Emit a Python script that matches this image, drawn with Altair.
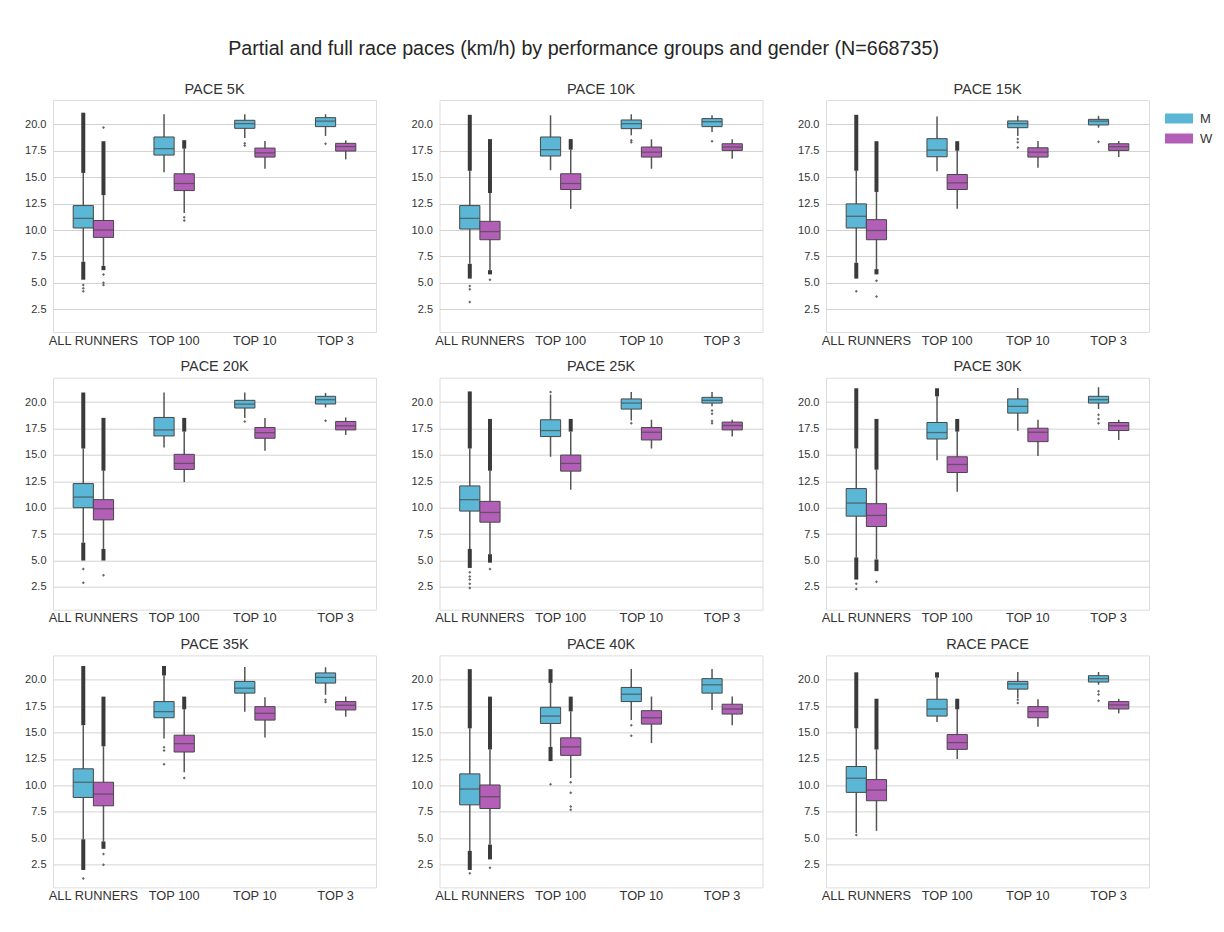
import altair as alt
import pandas as pd

# ---------------- data ----------------
panels = ["PACE 5K", "PACE 10K", "PACE 15K", "PACE 20K", "PACE 25K",
          "PACE 30K", "PACE 35K", "PACE 40K", "RACE PACE"]
groups = ["ALL RUNNERS", "TOP 100", "TOP 10", "TOP 3"]
genders = ["M", "W"]
# each inner list: ALL M, ALL W, T100 M, T100 W, T10 M, T10 W, T3 M, T3 W
q1 = [
    [10.19, 9.30, 17.09, 13.73, 19.62, 16.90, 19.78, 17.47],
    [10.09, 9.08, 17.00, 13.83, 19.59, 16.90, 19.78, 17.53],
    [10.19, 9.08, 16.93, 13.83, 19.68, 16.90, 19.94, 17.53],
    [10.00, 8.85, 16.79, 13.62, 19.43, 16.57, 19.81, 17.36],
    [9.68, 8.63, 16.73, 13.46, 19.33, 16.41, 19.90, 17.36],
    [9.20, 8.22, 16.50, 13.33, 18.95, 16.25, 19.90, 17.30],
    [8.86, 8.07, 16.40, 13.16, 18.73, 16.18, 19.68, 17.14],
    [8.16, 7.81, 15.86, 12.84, 17.93, 15.80, 18.73, 16.75],
    [9.34, 8.55, 16.56, 13.41, 19.11, 16.40, 19.78, 17.23],
]
median = [
    [11.10, 10.00, 17.70, 14.40, 20.06, 17.30, 20.30, 17.90],
    [11.10, 9.85, 17.60, 14.40, 20.06, 17.37, 20.25, 17.85],
    [11.30, 9.95, 17.56, 14.46, 20.06, 17.37, 20.30, 17.88],
    [11.01, 9.90, 17.36, 14.19, 19.80, 17.10, 20.22, 17.75],
    [10.76, 9.55, 17.30, 14.19, 19.90, 17.14, 20.16, 17.78],
    [10.44, 9.27, 17.11, 14.09, 19.59, 17.14, 20.22, 17.75],
    [10.30, 9.18, 16.98, 13.95, 19.20, 16.82, 20.22, 17.58],
    [9.66, 8.93, 16.56, 13.64, 18.63, 16.40, 19.52, 17.23],
    [10.68, 9.56, 17.23, 14.05, 19.59, 16.98, 20.10, 17.61],
]
q3 = [
    [12.31, 10.90, 18.80, 15.32, 20.38, 17.75, 20.63, 18.20],
    [12.31, 10.82, 18.80, 15.32, 20.41, 17.85, 20.54, 18.16],
    [12.47, 10.98, 18.64, 15.25, 20.32, 17.78, 20.47, 18.16],
    [12.28, 10.76, 18.54, 15.05, 20.16, 17.59, 20.54, 18.16],
    [12.06, 10.60, 18.32, 14.98, 20.29, 17.59, 20.44, 18.10],
    [11.81, 10.38, 18.06, 14.82, 20.29, 17.52, 20.54, 18.06],
    [11.57, 10.30, 17.93, 14.75, 19.84, 17.45, 20.64, 17.93],
    [11.09, 10.04, 17.39, 14.50, 19.27, 17.07, 20.10, 17.68],
    [11.79, 10.55, 18.15, 14.81, 19.84, 17.45, 20.38, 17.93],
]
whisker_low = [
    [7.00, 6.60, 15.47, 11.60, 18.70, 15.80, 18.90, 16.68],
    [6.80, 6.20, 15.66, 12.00, 18.96, 15.80, 19.27, 16.74],
    [6.90, 6.30, 15.57, 12.00, 18.90, 15.90, 19.68, 16.90],
    [6.70, 6.10, 15.70, 12.44, 18.48, 15.40, 19.49, 16.89],
    [6.10, 5.60, 14.82, 11.70, 18.25, 15.60, 19.60, 16.73],
    [5.30, 5.10, 14.50, 11.50, 17.27, 14.90, 19.33, 16.40],
    [4.90, 4.70, 14.43, 11.25, 16.98, 14.53, 18.57, 16.50],
    [3.80, 4.40, 13.64, 10.70, 16.18, 14.00, 17.14, 15.70],
    [5.50, 5.70, 16.00, 12.50, 18.25, 15.55, 19.52, 16.82],
]
whisker_high = [
    [15.40, 13.30, 20.95, 17.70, 20.95, 18.42, 20.95, 18.48],
    [15.60, 13.50, 20.85, 17.60, 20.95, 18.58, 20.85, 18.58],
    [15.60, 13.60, 20.73, 17.50, 20.80, 18.42, 20.80, 18.42],
    [15.60, 13.50, 20.90, 17.20, 20.90, 18.48, 20.86, 18.54],
    [15.60, 13.50, 20.70, 17.20, 20.95, 18.32, 20.95, 18.32],
    [15.60, 13.60, 20.54, 17.20, 21.33, 18.32, 21.40, 18.32],
    [15.70, 13.70, 20.40, 17.20, 21.20, 18.35, 21.18, 18.41],
    [15.40, 13.40, 19.70, 17.00, 21.02, 18.41, 21.02, 18.41],
    [15.40, 13.40, 20.20, 17.20, 20.73, 18.15, 20.73, 18.19],
]
N = None
# end of the dense band of outliers above the upper whisker (None = no band)
dense_high_end = [
    [21.1, 18.4, N, 18.5, N, N, N, N],
    [20.9, 18.6, N, 18.6, N, N, N, N],
    [20.9, 18.4, N, 18.4, N, N, N, N],
    [20.9, 18.5, N, 18.5, N, N, N, N],
    [21.0, 18.4, N, 18.4, N, N, N, N],
    [21.3, 18.4, 21.3, 18.4, N, N, N, N],
    [21.3, 18.4, 21.3, 18.4, N, N, N, N],
    [21.0, 18.4, 21.0, 18.4, N, N, N, N],
    [20.7, 18.2, 20.7, 18.2, N, N, N, N],
]
# end of the dense band of outliers below the lower whisker (None = no band)
dense_low_end = [
    [5.3, 6.2, N, N, N, N, N, N],
    [5.4, 5.8, N, N, N, N, N, N],
    [5.4, 5.8, N, N, N, N, N, N],
    [5.0, 5.0, N, N, N, N, N, N],
    [4.3, 4.8, N, N, N, N, N, N],
    [3.2, 4.0, N, N, N, N, N, N],
    [2.0, 4.0, N, N, N, N, N, N],
    [2.0, 3.0, 12.3, N, N, N, N, N],
    [N, N, N, N, N, N, N, N],
]
# isolated outliers: (panel index, group, gender, value)
outliers = [
    (0, "ALL RUNNERS", "M", 4.8), (0, "ALL RUNNERS", "M", 4.5), (0, "ALL RUNNERS", "M", 4.2),
    (0, "ALL RUNNERS", "W", 19.7), (0, "ALL RUNNERS", "W", 5.8), (0, "ALL RUNNERS", "W", 5.0),
    (0, "ALL RUNNERS", "W", 4.8), (0, "TOP 100", "W", 11.2), (0, "TOP 100", "W", 10.9),
    (0, "TOP 10", "M", 18.2), (0, "TOP 10", "M", 18.0), (0, "TOP 3", "M", 18.16),
    (1, "ALL RUNNERS", "M", 4.7), (1, "ALL RUNNERS", "M", 4.4), (1, "ALL RUNNERS", "M", 3.2),
    (1, "ALL RUNNERS", "W", 5.3), (1, "TOP 10", "M", 18.5), (1, "TOP 10", "M", 18.3),
    (1, "TOP 3", "M", 18.4),
    (2, "ALL RUNNERS", "M", 4.2), (2, "ALL RUNNERS", "W", 5.2), (2, "ALL RUNNERS", "W", 3.7),
    (2, "TOP 10", "M", 18.6), (2, "TOP 10", "M", 18.3), (2, "TOP 10", "M", 17.8),
    (2, "TOP 3", "M", 18.35),
    (3, "ALL RUNNERS", "M", 4.2), (3, "ALL RUNNERS", "M", 2.9), (3, "ALL RUNNERS", "W", 3.6),
    (3, "TOP 10", "M", 18.16), (3, "TOP 3", "M", 18.22),
    (4, "ALL RUNNERS", "M", 3.9), (4, "ALL RUNNERS", "M", 3.5), (4, "ALL RUNNERS", "M", 3.2),
    (4, "ALL RUNNERS", "M", 2.8), (4, "ALL RUNNERS", "M", 2.4), (4, "ALL RUNNERS", "W", 4.2),
    (4, "TOP 100", "M", 20.95), (4, "TOP 10", "M", 18.0), (4, "TOP 3", "M", 19.2),
    (4, "TOP 3", "M", 18.9), (4, "TOP 3", "M", 18.2), (4, "TOP 3", "M", 18.0),
    (5, "ALL RUNNERS", "M", 2.8), (5, "ALL RUNNERS", "M", 2.3), (5, "ALL RUNNERS", "W", 3.0),
    (5, "TOP 3", "M", 18.8), (5, "TOP 3", "M", 18.4), (5, "TOP 3", "M", 18.0),
    (6, "ALL RUNNERS", "M", 1.2), (6, "ALL RUNNERS", "W", 3.5), (6, "ALL RUNNERS", "W", 2.5),
    (6, "TOP 100", "M", 13.6), (6, "TOP 100", "M", 13.3), (6, "TOP 100", "M", 12.0),
    (6, "TOP 100", "W", 10.7), (6, "TOP 3", "M", 18.1), (6, "TOP 3", "M", 17.9),
    (7, "ALL RUNNERS", "M", 1.7), (7, "ALL RUNNERS", "W", 2.2), (7, "TOP 100", "M", 10.1),
    (7, "TOP 100", "W", 10.3), (7, "TOP 100", "W", 9.3), (7, "TOP 100", "W", 8.0),
    (7, "TOP 100", "W", 7.7), (7, "TOP 10", "M", 15.7), (7, "TOP 10", "M", 14.7),
    (8, "ALL RUNNERS", "M", 5.3), (8, "TOP 10", "M", 18.1), (8, "TOP 10", "M", 17.8),
    (8, "TOP 3", "M", 18.9), (8, "TOP 3", "M", 18.6), (8, "TOP 3", "M", 18.0),
]
y_ticks = [2.5, 5.0, 7.5, 10.0, 12.5, 15.0, 17.5, 20.0]
title_text = "Partial and full race paces (km/h) by performance groups and gender (N=668735)"

# ---------------- styling ----------------
FONT = "Liberation Sans"
BLUE = "#5cb7d6"
PINK = "#b35fb8"
EDGE = "#474747"
Y_DOMAIN = [0.35, 22.3]
PANEL_W, PANEL_H = 323, 232
HALF_SUB = PANEL_W / len(groups) / 4 / 2   # centre of a gender sub-band

rows = []
for p, name in enumerate(panels):
    for gi, g in enumerate(groups):
        for si, s in enumerate(genders):
            k = gi * 2 + si
            rows.append(dict(panel=name, group=g, gender=s,
                             q1=q1[p][k], med=median[p][k], q3=q3[p][k],
                             wlo=whisker_low[p][k], whi=whisker_high[p][k],
                             dhi=dense_high_end[p][k], dlo=dense_low_end[p][k]))
df = pd.DataFrame(rows)
fl = pd.DataFrame([dict(panel=panels[p], group=g, gender=s, value=v)
                   for p, g, s, v in outliers])

x_enc = alt.X("group:N", sort=groups,
              scale=alt.Scale(domain=groups, paddingInner=0, paddingOuter=0),
              axis=alt.Axis(title=None, labelAngle=0, ticks=False, domain=False,
                            labelPadding=2, labelFontSize=12.8, labelColor="#333333",
                            labelFont=FONT, grid=False))
xo_enc = alt.XOffset("gender:N",
                     scale=alt.Scale(domain=genders, paddingInner=0, paddingOuter=1))
y_scale = alt.Scale(domain=Y_DOMAIN, nice=False, zero=False)
y_axis = alt.Axis(title=None, values=y_ticks, format=".1f", ticks=False, domain=False,
                  grid=True, gridColor="#d3d3d3", gridWidth=1, labelPadding=7,
                  labelFontSize=11, labelColor="#333333", labelFont=FONT)
color_enc = alt.Color("gender:N", scale=alt.Scale(domain=genders, range=[BLUE, PINK]),
                      legend=alt.Legend(title=None, orient="none", legendX=1116, legendY=8.5,
                                        symbolType="M-1.4,-0.5H1.4V0.5H-1.4Z",
                                        symbolSize=400, symbolStrokeWidth=0,
                                        labelFontSize=13, labelFont=FONT,
                                        labelColor="#333333", labelOffset=11,
                                        rowPadding=3))


def panel(name):
    d = df[df.panel == name]
    dh = d.dropna(subset=["dhi"])
    dl = d.dropna(subset=["dlo"])
    f = fl[fl.panel == name]
    whisk = alt.Chart(d).mark_rule(color="#555555", strokeWidth=1.5, xOffset=HALF_SUB).encode(
        x=x_enc, xOffset=xo_enc, y=alt.Y("wlo:Q", scale=y_scale, axis=y_axis), y2="whi:Q")
    layers = [whisk]
    if len(dh):
        layers.append(alt.Chart(dh).mark_rule(color="#3a3a3a", strokeWidth=4,
                                              xOffset=HALF_SUB).encode(
            x=x_enc, xOffset=xo_enc, y=alt.Y("whi:Q", scale=y_scale, axis=y_axis), y2="dhi:Q"))
    if len(dl):
        layers.append(alt.Chart(dl).mark_rule(color="#3a3a3a", strokeWidth=4,
                                              xOffset=HALF_SUB).encode(
            x=x_enc, xOffset=xo_enc, y=alt.Y("wlo:Q", scale=y_scale, axis=y_axis), y2="dlo:Q"))
    if len(f):
        layers.append(alt.Chart(f).mark_point(shape="diamond", filled=True, size=9,
                                              color="#555555", opacity=0.9,
                                              xOffset=HALF_SUB).encode(
            x=x_enc, xOffset=xo_enc, y=alt.Y("value:Q", scale=y_scale, axis=y_axis)))
    box = alt.Chart(d).mark_bar(stroke=EDGE, strokeWidth=1).encode(
        x=x_enc, xOffset=xo_enc, y=alt.Y("q1:Q", scale=y_scale, axis=y_axis), y2="q3:Q",
        color=color_enc)
    med = alt.Chart(d).mark_tick(color=EDGE, thickness=1.3, size=20).encode(
        x=x_enc, xOffset=xo_enc, y=alt.Y("med:Q", scale=y_scale, axis=y_axis))
    layers += [box, med]
    return alt.layer(*layers).properties(
        width=PANEL_W, height=PANEL_H,
        title=alt.TitleParams(name, fontSize=14.5, font=FONT, color="#333333",
                              fontWeight="normal", offset=3))


rows_charts = []
for r in range(3):
    rows_charts.append(alt.hconcat(*[panel(panels[r * 3 + c]) for c in range(3)],
                                   spacing=33.5))

chart = alt.vconcat(*rows_charts, spacing=10.7).properties(
    title=alt.TitleParams(title_text, fontSize=19.7, font=FONT, color="#262626",
                          fontWeight="normal", anchor="middle", offset=22.5, dx=-35),
    padding={"left": 16, "top": 30, "right": 0, "bottom": 5},
).configure_view(stroke="#dcdcdc", strokeWidth=1).configure(background="white")

chart.save("out.html", embed_options={"renderer": "svg", "actions": False})
